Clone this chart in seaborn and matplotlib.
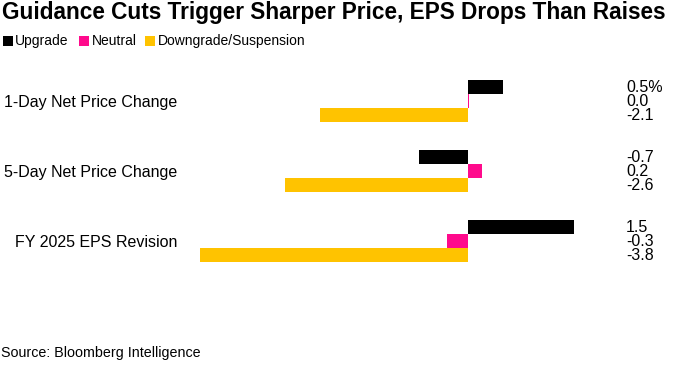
import matplotlib
matplotlib.use("Agg")
import matplotlib.pyplot as plt
import matplotlib.transforms as mtransforms
from matplotlib.patches import Rectangle
import seaborn as sns
import pandas as pd

categories = ["1-Day Net Price Change", "5-Day Net Price Change", "FY 2025 EPS Revision"]
series = ["Upgrade", "Neutral", "Downgrade/Suspension"]
upgrade = [0.5, -0.7, 1.5]
neutral = [0.02, 0.2, -0.3]
downgrade = [-2.1, -2.6, -3.8]
labels_upgrade = ["0.5%", "-0.7", "1.5"]
labels_neutral = ["0.0", "0.2", "-0.3"]
labels_downgrade = ["-2.1", "-2.6", "-3.8"]
colors = ["#000000", "#FF0A8C", "#FFC300"]

rows = []
for i, c in enumerate(categories):
    rows.append((c, series[0], upgrade[i]))
    rows.append((c, series[1], neutral[i]))
    rows.append((c, series[2], downgrade[i]))
df = pd.DataFrame(rows, columns=["category", "series", "value"])

sns.set_theme(style="white")
plt.rcParams["font.family"] = ["Liberation Sans", "DejaVu Sans"]

fig = plt.figure(figsize=(6.81, 3.85), dpi=100)
ax = fig.add_axes([190 / 681, 1 - 276 / 385, 410 / 681, 210 / 385])

sns.barplot(data=df, y="category", x="value", hue="series", orient="h",
            palette=colors, saturation=1, width=0.6, ax=ax, legend=False,
            edgecolor="none", linewidth=0)

ax.set_xlim((190 - 468) / 70.5, (600 - 468) / 70.5)
ax.set_ylim(2.5, -0.5)
for s in ax.spines.values():
    s.set_visible(False)
ax.set_xticks([])
ax.set_xlabel("")
ax.set_ylabel("")
ax.tick_params(axis="y", length=0, pad=9, labelsize=11.5, labelcolor="#000000")

trans = mtransforms.blended_transform_factory(fig.transFigure, ax.transData)
for i in range(len(categories)):
    for off, lab in zip([-0.2, 0.0, 0.2], [labels_upgrade[i], labels_neutral[i], labels_downgrade[i]]):
        ax.text(626 / 681, i + off, lab, transform=trans, ha="left", va="center",
                fontsize=11.5, color="#000000", clip_on=False)

fig.text(2 / 681, 1 - 19 / 385, "Guidance Cuts Trigger Sharper Price, EPS Drops Than Raises",
         fontsize=16.3, fontweight="bold", ha="left", va="baseline", color="#000000")

# legend
ly = 1 - 41 / 385
sq_x = [3, 79, 145]
txt_x = [15, 92, 158]
for p, t, s, col in zip(sq_x, txt_x, series, colors):
    fig.patches.append(Rectangle((p / 681, 1 - 46 / 385), 10 / 681, 10 / 385,
                                 transform=fig.transFigure, facecolor=col, edgecolor="none"))
    fig.text(t / 681, ly, s, fontsize=10, ha="left", va="center", color="#000000")

fig.text(1 / 681, 1 - 353 / 385, "Source: Bloomberg Intelligence", fontsize=10.3,
         ha="left", va="center", color="#000000")

fig.savefig("out.png", dpi=100)
